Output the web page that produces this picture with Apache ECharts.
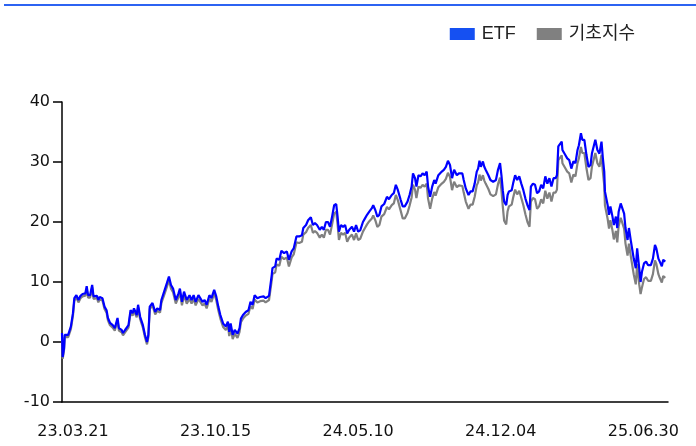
<!DOCTYPE html>
<html>
<head>
<meta charset="utf-8">
<script src="https://cdn.jsdelivr.net/npm/echarts@6/dist/echarts.min.js"></script>
<style>
  html, body { margin: 0; padding: 0; background: #fff; }
  #chart { width: 696px; height: 446px; }
</style>
</head>
<body>
<div id="chart"></div>
<script>
// day numbers counted from 2023-03-21
var startDate = "2023-03-21";
var days = [
  -16, -15, -13, -12, -7, -3, 0, 2, 5, 8, 11, 14, 18, 20, 22, 25, 28, 30, 35, 37,
  39, 43, 46, 49, 51, 54, 58, 61, 65, 67, 71, 73, 76, 81, 84, 87, 89, 93, 95, 98,
  102, 105, 108, 110, 112, 116, 120, 123, 127, 129, 133, 137, 140, 143, 146, 150, 154, 156, 159, 162,
  166, 170, 173, 176, 179, 183, 185, 189, 192, 195, 199, 202, 206, 209, 212, 215, 219, 223, 226, 228,
  230, 233, 236, 240, 243, 245, 248, 252, 256, 259, 262, 265, 269, 273, 278, 281, 286, 290, 291, 295,
  297, 301, 304, 308, 312, 315, 319, 322, 326, 330, 334, 336, 340, 343, 347, 350, 353, 356, 360, 363,
  366, 369, 372, 375, 378, 381, 384, 386, 388, 391, 394, 397, 400, 403, 407, 410, 413, 416, 419, 423,
  426, 429, 432, 436, 438, 441, 444, 447, 450, 454, 458, 461, 465, 468, 471, 474, 478, 481, 484, 488,
  491, 494, 496, 499, 501, 504, 507, 510, 513, 516, 518, 521, 524, 527, 529, 533, 535, 538, 541, 544,
  547, 550, 553, 556, 560, 563, 568, 570, 573, 577, 580, 583, 586, 589, 591, 593, 595, 598, 600, 602,
  606, 609, 613, 617, 620, 623, 625, 627, 629, 632, 634, 636, 640, 642, 645, 648, 651, 654, 657, 660,
  663, 666, 668, 671, 674, 677, 680, 683, 686, 689, 692, 695, 698, 701, 704, 706, 708, 710, 713, 714,
  718, 721, 724, 727, 730, 733, 736, 738, 741, 743, 746, 749, 752, 755, 757, 760, 762, 765, 768, 771,
  773, 775, 776, 778, 780, 782, 784, 787, 789, 792, 794, 796, 799, 801, 804, 806, 809, 811, 814, 816,
  818, 821, 823, 826, 828, 830, 833, 836, 839, 843, 846, 849, 851, 854, 856, 859, 861, 864
];
var etfValues = [
  1.5, -2.5, -1.0, 1.2, 1.2, 2.6, 4.8, 7.3, 7.8, 7.0, 7.7, 8.0, 8.1, 9.3, 7.8, 7.8, 9.5, 7.6, 7.7, 7.0,
  7.5, 7.3, 5.9, 5.3, 4.0, 3.2, 2.8, 2.3, 4.0, 2.3, 2.0, 1.5, 2.0, 2.8, 5.3, 4.8, 5.6, 4.5, 6.2, 4.2,
  2.8, 1.2, 0.0, 1.2, 5.9, 6.5, 5.0, 5.6, 5.3, 7.0, 8.4, 9.8, 10.9, 9.5, 8.9, 7.0, 8.1, 8.9, 6.7, 8.4,
  7.0, 7.8, 7.0, 7.8, 6.7, 7.8, 8.1, 6.7, 7.0, 6.2, 7.8, 7.3, 8.7, 7.6, 5.9, 4.5, 3.1, 2.6, 3.4, 1.7,
  3.1, 1.2, 2.0, 1.4, 2.3, 3.9, 4.5, 5.0, 5.3, 6.7, 6.2, 7.8, 7.3, 7.5, 7.6, 7.3, 7.7, 11.2, 12.3, 12.6,
  13.9, 13.7, 15.2, 14.8, 15.1, 13.7, 15.1, 15.6, 17.6, 17.6, 17.8, 19.0, 19.5, 20.3, 20.8, 19.5, 19.8, 19.5, 18.7, 19.2,
  18.7, 20.0, 20.0, 19.2, 20.9, 22.8, 23.0, 20.9, 18.4, 19.5, 19.2, 19.5, 18.1, 18.7, 19.2, 18.4, 19.5, 18.4, 18.6, 20.0,
  20.6, 21.2, 21.7, 22.3, 22.8, 22.0, 20.9, 21.2, 22.6, 23.0, 24.2, 23.8, 24.5, 24.8, 26.2, 25.3, 23.7, 22.6, 22.6, 23.4,
  24.5, 25.9, 28.1, 27.3, 25.9, 27.8, 27.6, 28.1, 27.8, 28.4, 25.9, 24.2, 25.9, 27.0, 26.4, 27.8, 27.6, 28.4, 28.7, 29.2,
  30.2, 29.5, 27.3, 28.7, 27.8, 28.1, 28.1, 27.0, 25.6, 24.5, 25.1, 25.1, 26.4, 28.4, 28.9, 30.2, 29.2, 30.1, 29.2, 28.7,
  27.8, 27.0, 26.7, 27.0, 28.7, 29.8, 27.8, 25.3, 23.4, 22.8, 24.5, 25.1, 25.3, 26.4, 27.8, 27.0, 27.6, 26.4, 25.3, 23.9,
  22.8, 22.0, 25.9, 26.4, 26.2, 24.8, 25.1, 26.2, 25.6, 27.6, 26.4, 27.3, 25.9, 27.3, 27.3, 27.8, 32.6, 32.8, 33.4, 32.0,
  31.2, 30.6, 30.3, 28.9, 30.1, 29.8, 32.0, 32.8, 34.8, 33.7, 33.7, 31.2, 29.2, 29.5, 31.4, 32.8, 33.7, 32.0, 31.4, 33.4,
  30.6, 28.4, 25.1, 24.8, 22.8, 21.2, 22.6, 20.9, 19.5, 20.9, 19.0, 21.7, 23.1, 23.4, 21.4, 19.0, 17.0, 19.0, 16.7, 16.7,
  13.9, 12.3, 15.6, 12.3, 10.0, 11.7, 13.1, 13.4, 12.8, 12.8, 13.9, 16.2, 15.6, 13.9, 13.4, 12.6, 13.7, 13.4
];
var indexValues = [
  1.2, -2.8, -1.3, 0.8, 0.8, 2.2, 4.4, 6.9, 7.4, 6.6, 7.3, 7.6, 7.7, 8.9, 7.4, 7.4, 9.1, 7.2, 7.3, 6.6,
  7.1, 6.9, 5.5, 4.9, 3.6, 2.8, 2.4, 1.9, 3.6, 1.9, 1.6, 1.1, 1.6, 2.4, 4.9, 4.4, 5.2, 4.1, 5.8, 3.8,
  2.4, 0.8, -0.4, 0.8, 5.5, 6.1, 4.6, 5.2, 4.9, 6.5, 7.8, 9.2, 10.3, 8.9, 8.3, 6.4, 7.5, 8.3, 6.1, 7.8,
  6.4, 7.2, 6.4, 7.2, 6.1, 7.2, 7.5, 6.1, 6.4, 5.6, 7.2, 6.7, 8.1, 7.0, 5.3, 3.9, 2.5, 2.0, 2.8, 1.0,
  2.5, 0.5, 1.4, 0.7, 1.7, 3.3, 3.9, 4.4, 4.7, 6.0, 5.5, 7.1, 6.6, 6.8, 6.9, 6.6, 7.0, 10.3, 11.3, 11.6,
  12.9, 12.7, 14.2, 13.8, 14.1, 12.6, 14.1, 14.6, 16.6, 16.5, 16.7, 17.9, 18.3, 19.0, 19.5, 18.2, 18.5, 18.2, 17.4, 17.9,
  17.4, 18.7, 18.7, 17.9, 19.6, 21.4, 21.7, 19.6, 17.0, 18.2, 17.9, 18.2, 16.7, 17.4, 17.9, 17.0, 18.1, 17.0, 17.2, 18.4,
  19.0, 19.6, 20.1, 20.6, 21.1, 20.3, 19.2, 19.5, 20.9, 21.3, 22.5, 22.1, 22.8, 23.1, 24.5, 23.6, 21.9, 20.6, 20.6, 21.5,
  22.7, 24.1, 26.2, 25.4, 24.0, 25.9, 25.7, 26.2, 25.9, 26.4, 23.9, 22.2, 23.9, 25.0, 24.4, 25.8, 25.6, 26.4, 26.7, 27.2,
  28.2, 27.5, 25.3, 26.7, 25.8, 26.1, 26.0, 24.9, 23.4, 22.2, 22.9, 22.9, 24.2, 26.1, 26.6, 27.9, 26.9, 27.8, 26.9, 26.4,
  25.5, 24.6, 24.3, 24.6, 26.3, 27.4, 25.3, 22.6, 20.2, 19.6, 21.8, 22.6, 22.9, 24.0, 25.4, 24.6, 25.2, 24.0, 22.8, 21.3,
  20.0, 19.2, 23.4, 24.0, 23.8, 22.2, 22.6, 23.8, 23.1, 25.2, 23.9, 24.9, 23.4, 24.9, 24.9, 25.4, 30.3, 30.5, 31.1, 29.8,
  29.0, 28.4, 28.1, 26.6, 27.9, 27.6, 29.8, 30.6, 32.5, 31.5, 31.5, 29.0, 27.0, 27.3, 29.2, 30.6, 31.5, 29.8, 29.2, 31.2,
  28.4, 26.1, 22.8, 22.5, 20.5, 18.9, 20.3, 18.6, 17.1, 18.5, 16.6, 19.3, 20.7, 21.0, 18.9, 16.4, 14.4, 16.4, 14.1, 14.1,
  11.3, 9.6, 13.0, 9.6, 8.0, 9.1, 10.5, 10.8, 10.2, 10.2, 11.3, 13.6, 13.0, 11.3, 10.7, 9.9, 11.0, 10.7
];
var tickDates = ["2023-03-21", "2023-10-15", "2024-05-10", "2024-12-04", "2025-06-30"];
var yTicks = [-10, 0, 10, 20, 30, 40];

function utc(s) {
  var p = s.split("-");
  return Date.UTC(+p[0], +p[1] - 1, +p[2]);
}
var DAY = 86400000;
var base = utc(startDate);
function dayOf(s) { return Math.round((utc(s) - base) / DAY); }
function pad(n) { return (n < 10 ? "0" : "") + n; }
function fmtDay(v) {
  var d = new Date(base + v * DAY);
  return pad(d.getUTCFullYear() % 100) + "." + pad(d.getUTCMonth() + 1) + "." + pad(d.getUTCDate());
}

var etfData = days.map(function (d, i) { return [d, etfValues[i]]; });
var indexData = days.map(function (d, i) { return [d, indexValues[i]]; });

var chart = echarts.init(document.getElementById("chart"));
chart.setOption({
  animation: false,
  backgroundColor: "#fff",
  graphic: [{
    type: "rect",
    left: 4, top: 4,
    shape: { width: 692, height: 2 },
    style: { fill: "#2c63f2" },
    silent: true
  }],
  legend: {
    right: 56,
    top: 20,
    icon: "rect",
    itemWidth: 25,
    itemHeight: 12,
    itemGap: 21,
    data: [
      { name: "ETF", itemStyle: { color: "#1550f2" } },
      { name: "기초지수", itemStyle: { color: "#808080" } }
    ],
    textStyle: {
      fontFamily: "'Liberation Sans', 'Noto Sans CJK KR', sans-serif",
      fontSize: 18,
      color: "#222",
      padding: [0, 0, 0, 2]
    }
  },
  grid: { left: 62, right: 28, top: 102, bottom: 44 },
  xAxis: {
    type: "value",
    min: -16,
    max: 868,
    splitLine: { show: false },
    axisLine: { onZero: false, lineStyle: { color: "#000", width: 1.5 } },
    axisTick: { show: false },
    axisLabel: {
      customValues: tickDates.map(dayOf),
      formatter: fmtDay,
      margin: 22,
      fontFamily: "DejaVu Sans",
      fontSize: 16,
      color: "#111"
    }
  },
  yAxis: {
    type: "value",
    min: yTicks[0],
    max: yTicks[yTicks.length - 1],
    interval: 10,
    splitLine: { show: false },
    axisLine: { show: true, onZero: false, lineStyle: { color: "#000", width: 1.5 } },
    axisTick: { show: true, length: 9, lineStyle: { color: "#000", width: 1.5 } },
    axisLabel: {
      margin: 12,
      fontFamily: "DejaVu Sans",
      fontSize: 16,
      color: "#111"
    }
  },
  series: [
    {
      name: "기초지수",
      type: "line",
      data: indexData,
      showSymbol: false,
      lineStyle: { color: "#808080", width: 2.2 },
      itemStyle: { color: "#808080" },
      z: 2
    },
    {
      name: "ETF",
      type: "line",
      data: etfData,
      showSymbol: false,
      lineStyle: { color: "#0000ff", width: 2.2 },
      itemStyle: { color: "#0000ff" },
      z: 3
    }
  ]
});
</script>
</body>
</html>
